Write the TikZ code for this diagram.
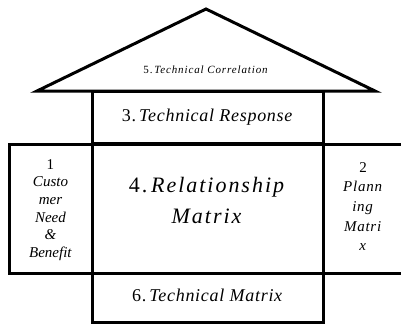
\documentclass[tikz,border=0pt]{standalone}
\usepackage{fontspec}
\setmainfont{Liberation Serif}
\begin{document}
\begin{tikzpicture}[x=1pt,y=-1pt,
  thick line/.style={line width=3pt, line join=miter},
  box/.style={draw, thick line, rectangle, inner sep=0pt},
  lbl/.style={align=center, inner sep=0pt}]
\useasboundingbox (0,0) rectangle (401,324);
% roof
\coordinate (apex) at (206,9);
\coordinate (rl) at (37,91);
\coordinate (rr) at (375,91);
\draw[thick line] (rl) -- (apex) -- (rr) -- cycle;
\node[lbl, font=\fontsize{11}{13}\selectfont\addfontfeatures{LetterSpace=8}] (corr) at (206,70) {5.\,\textit{Technical Correlation}};
% middle column
\node[box, minimum width=231pt, minimum height=52pt] (resp) at (207.5,117.5) {};
\node[lbl, font=\fontsize{18}{21}\selectfont\addfontfeatures{LetterSpace=4}] at (resp.center) {3.\,\textit{Technical Response}};
\node[box, minimum width=231pt, minimum height=129pt] (rel) at (207.5,208.5) {};
\node[lbl, font=\fontsize{22}{31}\selectfont\addfontfeatures{LetterSpace=9}] at (207.5,200.5) {4.\,\textit{Relationship}\\\textit{Matrix}};
\node[box, minimum width=231pt, minimum height=49pt] (tm) at (207.5,297.5) {};
\node[lbl, font=\fontsize{18}{21}\selectfont\addfontfeatures{LetterSpace=4}] at (207.5,295.5) {6.\,\textit{Technical Matrix}};
% left box
\node[box, minimum width=83pt, minimum height=129pt] (cust) at (50.5,208.5) {};
\node[lbl, font=\fontsize{15}{17.7}\selectfont] at (50.5,210) {1\\\textit{Custo}\\\textit{mer}\\\textit{Need}\\\textit{\&}\\\textit{Benefit}};
% right box (open to the right)
\coordinate (pa) at (404,144);
\coordinate (pb) at (323,144);
\coordinate (pc) at (323,273);
\coordinate (pd) at (404,273);
\draw[thick line] (pa) -- (pb) -- (pc) -- (pd);
\node[lbl, font=\fontsize{15}{19.7}\selectfont\addfontfeatures{LetterSpace=5}] (plan) at (363,206.5) {2\\\textit{Plann}\\\textit{ing}\\\textit{Matri}\\\textit{x}};
\end{tikzpicture}
\end{document}
